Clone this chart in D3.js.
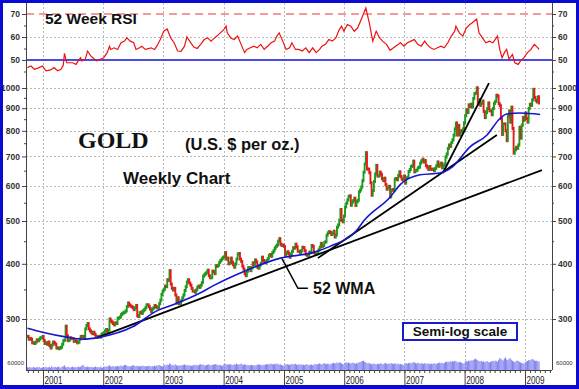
<!DOCTYPE html>
<html>
<head>
<meta charset="utf-8">
<script src="https://cdn.jsdelivr.net/npm/d3@7"></script>
<style>
body { margin: 0; background: #fff; }
svg { display: block; }
text { font-family: Arial, "Liberation Sans", sans-serif; }
</style>
</head>
<body>
<div id="chart"></div>
<script>
var W = 579, H = 389;

// axis labels
var years = [2001, 2002, 2003, 2004, 2005, 2006, 2007, 2008, 2009];
var priceTicks = [300, 400, 500, 600, 700, 800, 900, 1000];
var priceMinor = [350, 450, 550, 650, 750, 850, 950];
var rsiTicks = [50, 60, 70];
var rsiMinor = [45, 55, 65];

// weekly closes (US$/oz), first week ends 29 Sep 2000
var firstWeek = new Date(2000, 8, 29);
var gold2000 = [274,270,271,270,265,265,264,266,269,268,270,272,272,274];
var gold2001 = [268,264,265,263, 266,261,258,262, 266,265,263,258,258, 257,258,259,263,
  268,269,289,275, 268,269,272,271,271, 267,268,267,265, 266,270,274,273,274,
  272,285,290,293, 285,282,280,278, 280,277,274,273,274, 274,273,277,278];
var gold2002 = [279,282,284,281, 283,300,297,295, 293,291,294,293,301, 302,303,307,309,
  310,311,313,320,326, 323,321,320,318, 315,318,322,305, 304,310,311,309,313,
  315,318,323,323, 320,316,312,316, 318,322,320,318,318, 325,331,341,347];
var gold2003 = [350,356,355,368,367, 386,360,352,349, 352,340,326,335, 325,325,330,335,
  340,348,355,364,368, 362,358,352,347, 347,345,349,354, 356,354,358,363,375,
  378,380,383,387, 376,372,372,385,384, 380,396,395,397, 403,407,410,413];
var gold2004 = [415,424,410,412,400, 402,412,403,398, 393,400,410,421, 422,410,405,395,389,
  380,376,385,392, 392,386,392,402, 398,408,404,393,391, 397,401,414,407,
  404,402,407,411, 418,420,416,424,428, 434,438,441,450, 456,443,440,441,438];
var gold2005 = [419,423,426,422, 414,420,427,435, 434,443,437,427, 427,423,428,436,435,
  428,420,418,418, 425,424,440,438, 424,420,421,423,430, 436,445,438,440,
  447,449,464,470,473, 471,466,469,474, 460,465,484,490, 502,531,502,498,513];
var gold2006 = [538,549,558,568, 570,543,552,556, 563,542,553,557,582, 588,597,617,645,
  673,714,656,655, 643,610,572,586,614, 639,668,632,632, 645,638,623,617,
  625,604,590,595,599, 567,587,589,587, 622,624,620,634, 646,630,622,619,632];
var gold2007 = [609,626,628,647, 654,664,667,683, 646,650,652,660,662, 676,684,690,680,
  685,667,662,654, 664,655,654,655,650, 658,667,680,665, 670,676,660,668,673,
  698,709,730,743, 738,753,763,782, 808,833,783,823,783, 800,796,808,834];
var gold2008 = [866,892,880,916, 908,919,906,947,971, 974,1001,920,940, 914,925,934,885,
  857,880,898,925,888, 888,870,899,923, 933,963,959,922, 912,852,785,829,829,
  800,760,863,887, 837,905,810,712,724, 734,730,743,815, 770,824,858,846];
var gold2009 = [878,853,837,898,919, 913,940,993,952, 938,930,955,925];

// weekly volume, thousands
var vol2000 = [22,18,25,20,19,24,21,17,23,20,26,19,15,22];
var vol2001 = [24,20,27,19,22,25,18,30,23,21,26,20,24,28,19,22,25,31,38,24,20,26,22,19,23,27,
  21,25,20,24,28,22,26,35,40,29,25,22,27,24,21,26,23,20,25,28,22,24,19,26,21,18];
var vol2002 = [27,25,30,26,31,38,29,27,33,26,30,28,34,29,32,36,30,34,39,42,35,31,28,33,30,36,
  40,32,29,34,31,27,33,30,35,29,32,28,31,34,30,27,33,29,35,31,38,34,41,36,32,28];
var vol2003 = [38,42,35,44,40,52,46,38,41,36,45,39,34,37,33,40,36,42,45,39,37,41,35,38,33,36,
  39,42,37,40,35,44,47,41,43,38,36,40,42,46,39,37,44,41,45,48,43,40,38,42,36,33];
var vol2004 = [45,50,47,42,46,44,48,41,39,46,43,50,45,42,47,52,44,40,46,43,38,41,36,39,42,37,
  40,35,38,44,41,46,39,37,42,40,44,47,43,49,45,51,48,44,50,46,53,47,43,45,41,37,34];
var vol2005 = [46,42,48,44,40,45,49,43,47,50,44,41,45,42,46,39,43,40,44,47,41,38,45,42,39,43,
  46,48,44,50,53,47,45,51,55,49,46,52,48,44,50,54,58,52,56,60,55,62,57,53,48,45];
var vol2006 = [58,62,55,60,57,52,56,59,54,50,57,53,60,64,68,72,75,66,60,55,52,58,50,46,49,53,
  48,45,51,47,50,54,49,46,52,57,50,47,53,49,55,51,48,54,50,47,52,45,49,46,42,40];
var vol2007 = [52,56,50,55,58,53,57,60,64,55,52,58,54,50,56,52,49,55,51,48,53,50,46,52,48,55,
  51,47,53,56,60,54,58,52,57,64,68,62,66,70,65,72,68,74,70,65,60,66,62,58,55,50];
var vol2008 = [66,72,68,75,70,78,74,80,86,90,84,78,72,68,74,65,70,62,67,72,64,60,66,70,74,68,
  76,72,65,80,96,88,82,76,92,100,84,78,88,95,82,74,68,62,70,76,72,66,60,58,54,50];
var vol2009 = [62,68,72,80,76,82,88,84,78,72,75,70,66];

// 52 week RSI (week number, value)
var rsiWeek = [0,3,6,10,13,16,20,23,26,29,31,32,34,39,42,44,46,47,50,52,55,58,60,63,66,69,71,72,
  75,78,81,84,86,89,92,94,97,99,102,107,110,112,115,118,121,124,127,130,133,136,138,141,144,147,
  150,153,156,159,162,164,167,170,172,173,176,179,182,185,188,190,193,196,199,202,205,208,211,
  214,216,218,221,224,227,229,232,235,238,241,244,247,250,253,255,258,261,264,267,270,272,274,
  277,280,283,286,289,293,296,299,302,305,308,311,314,317,320,323,326,329,332,335,338,341,344,
  346,349,352,355,358,361,364,367,370,371,374,377,380,383,385,389,391,394,397,400,403,406,407,
  409,411,413,415,417,420,422,425,427,430,433,436,439,442,443];
var rsiValue = [46.7,47.4,46,46.7,47.4,45.3,45.7,46.7,45.3,46,47.7,52.9,48.8,48.8,48.1,49.6,51,
  49.6,50.3,53.9,51.7,50.3,49.6,50.3,51,53.2,56,54.6,55.3,54.6,57.5,58.2,59.6,58.2,57.5,54.6,55.3,
  56,54.6,55.3,54.6,56,58.9,62.5,63.5,59.6,57.5,53.9,53.8,56,60,57.8,55.6,55,56.8,58.9,59.6,58.2,
  59.6,60.4,61.8,63.2,64.7,61.8,59.6,58.9,60.4,56.8,53.2,54.6,55.3,56,55.3,56.8,54.6,56,57.5,58.2,
  60.4,61.8,58.2,54.6,55.3,57.5,54.6,54.6,53.9,55.3,53.2,55.3,53.2,54.6,56,56.8,58.9,58.2,59.6,
  63.2,64.7,62.5,65.4,64.7,62.5,64,67.6,72.6,66.1,58.2,62.5,59.6,58,56.8,54.2,55.3,56.4,57.5,56,
  57.5,58.2,58.9,56.8,56,58.2,56.8,55.3,54.6,55.3,56,55.3,57.5,60.4,62.5,64.7,61.8,60.4,63.9,65.4,
  66.1,67.8,61.8,59.6,57.5,58.2,57.5,59.6,60.4,54.6,51,53.2,54.6,50.3,52.4,48.8,48.1,49.6,51,53.2,
  54.6,56.8,55.3,54.6];

// 52 week weighted moving average (week number, value)
var wmaWeek = [0,13,34,48,63,91,112,126,149,161,190,219,247,262,285,292,314,323,340,357,368,383,398,409,415,427,444];
var wmaValue = [286,280,273,270,273,288,313,323,343,357,387,412,424,438,476,503,566,605,636,642,663,735,783,852,873,878,871];

// trend lines: [week, price] -> [week, price]
var trendStart = [[60, 272], [251.5, 412], [359.7, 642]];
var trendEnd = [[445.5, 652], [406.5, 783], [399.6, 1026]];

var plotLeft = 26, plotRight = 552, plotTop = 3, plotBottom = 370;

var svg = d3.select('#chart').append('svg')
  .attr('width', W)
  .attr('height', H);

svg.append('rect').attr('width', W).attr('height', H).attr('fill', '#fff');

var x = d3.scaleTime()
  .domain([new Date(2001, 0, 1), new Date(2009, 0, 1)])
  .range([43, 525]);
var yPrice = d3.scaleLog().domain([300, 1000]).range([319, 88]);
var yRsi = d3.scaleLinear().domain([50, 70]).range([60, 14]);
var yVol = d3.scaleLinear().domain([0, 60]).range([plotBottom, plotBottom - 7.5]);

function weekDate(w){
  return new Date(firstWeek.getTime() + w * 7 * 864e5);
}
function wx(w){ return x(weekDate(w)); }

svg.append('defs').append('clipPath').attr('id', 'plotclip')
  .append('rect')
  .attr('x', plotLeft).attr('y', plotTop)
  .attr('width', plotRight - plotLeft).attr('height', plotBottom - plotTop);

// grid
var grid = svg.append('g')
  .attr('stroke', '#b8b8b8')
  .attr('stroke-dasharray', '2,2')
  .attr('stroke-width', 1);
grid.selectAll('.vg').data(years).enter().append('line')
  .attr('x1', function(d){ return Math.round(x(new Date(d, 0, 1))) + 0.5; })
  .attr('x2', function(d){ return Math.round(x(new Date(d, 0, 1))) + 0.5; })
  .attr('y1', plotTop).attr('y2', plotBottom);
grid.selectAll('.hg').data(priceTicks).enter().append('line')
  .attr('x1', plotLeft).attr('x2', plotRight)
  .attr('y1', function(d){ return Math.round(yPrice(d)) + 0.5; })
  .attr('y2', function(d){ return Math.round(yPrice(d)) + 0.5; });
grid.append('line')
  .attr('x1', plotLeft).attr('x2', plotRight)
  .attr('y1', Math.round(yRsi(60)) + 0.5).attr('y2', Math.round(yRsi(60)) + 0.5);

var plot = svg.append('g').attr('clip-path', 'url(#plotclip)');

// volume
var volume = [].concat(vol2000, vol2001, vol2002, vol2003, vol2004, vol2005, vol2006, vol2007, vol2008, vol2009);
plot.selectAll('.vol').data(volume).enter().append('line')
  .attr('x1', function(d, i){ return wx(i); })
  .attr('x2', function(d, i){ return wx(i); })
  .attr('y1', plotBottom)
  .attr('y2', function(d){ return yVol(d); })
  .attr('stroke', '#7272ec')
  .attr('stroke-width', 0.9);

// RSI reference lines
plot.append('line')
  .attr('x1', plotLeft).attr('x2', plotRight)
  .attr('y1', yRsi(70)).attr('y2', yRsi(70))
  .attr('stroke', '#e83838').attr('stroke-dasharray', '8,5');
plot.append('line')
  .attr('x1', plotLeft).attr('x2', plotRight)
  .attr('y1', yRsi(50)).attr('y2', yRsi(50))
  .attr('stroke', '#1010d8').attr('stroke-width', 1.6);

var rsiLine = d3.line()
  .x(function(d){ return wx(d[0]); })
  .y(function(d){ return yRsi(d[1]); });
plot.append('path')
  .datum(d3.zip(rsiWeek, rsiValue))
  .attr('d', rsiLine)
  .attr('fill', 'none')
  .attr('stroke', '#ee1111')
  .attr('stroke-width', 1.2);

// candles
var closes = [].concat(gold2000, gold2001, gold2002, gold2003, gold2004, gold2005, gold2006, gold2007, gold2008, gold2009);
var candles = closes.map(function(c, i){
  return {w: i, open: i ? closes[i - 1] : c, close: c};
});
plot.selectAll('.candle').data(candles).enter().append('line')
  .attr('x1', function(d){ return wx(d.w); })
  .attr('x2', function(d){ return wx(d.w); })
  .attr('y1', function(d){ return yPrice(d.open) + (d.close >= d.open ? 1.5 : -1.5); })
  .attr('y2', function(d){ return yPrice(d.close) + (d.close >= d.open ? -1.5 : 1.5); })
  .attr('stroke', function(d){ return d.close >= d.open ? '#1d9a1d' : '#e51a1a'; })
  .attr('stroke-width', 1.9);

// trend lines
plot.selectAll('.trend').data(d3.zip(trendStart, trendEnd)).enter().append('line')
  .attr('x1', function(d){ return wx(d[0][0]); })
  .attr('y1', function(d){ return yPrice(d[0][1]); })
  .attr('x2', function(d){ return wx(d[1][0]); })
  .attr('y2', function(d){ return yPrice(d[1][1]); })
  .attr('stroke', '#000')
  .attr('stroke-width', 1.8);

// WMA
var wmaLine = d3.line()
  .curve(d3.curveMonotoneX)
  .x(function(d){ return wx(d[0]); })
  .y(function(d){ return yPrice(d[1]); });
plot.append('path')
  .datum(d3.zip(wmaWeek, wmaValue))
  .attr('d', wmaLine)
  .attr('fill', 'none')
  .attr('stroke', '#1515d0')
  .attr('stroke-width', 1.6);

// axes
function styleAxis(g, size, bold){
  g.select('.domain').remove();
  g.selectAll('line').attr('stroke', '#444');
  g.selectAll('text')
    .attr('font-size', size)
    .attr('font-weight', bold ? 'bold' : 'normal')
    .attr('fill', '#333');
}
var axes = svg.append('g');
function sideAxis(axisFn, xPos, scale, major, minor){
  axes.append('g').attr('transform', 'translate(' + xPos + ',0)')
    .call(axisFn(scale).tickValues(major).tickFormat(d3.format('d')).tickSize(4).tickPadding(2))
    .call(styleAxis, 8.5, true);
  axes.append('g').attr('transform', 'translate(' + xPos + ',0)')
    .call(axisFn(scale).tickValues(minor).tickFormat('').tickSize(2))
    .call(styleAxis, 8.5, true);
}
sideAxis(d3.axisLeft, plotLeft, yPrice, priceTicks, priceMinor);
sideAxis(d3.axisLeft, plotLeft, yRsi, rsiTicks, rsiMinor);
sideAxis(d3.axisRight, plotRight, yPrice, priceTicks, priceMinor);
sideAxis(d3.axisRight, plotRight, yRsi, rsiTicks, rsiMinor);

axes.append('g').attr('transform', 'translate(0,' + plotBottom + ')')
  .call(d3.axisBottom(x).tickValues(d3.timeMonths(x.invert(plotLeft), x.invert(plotRight))).tickFormat('').tickSize(3))
  .call(styleAxis, 8, false);
axes.append('g').attr('transform', 'translate(0,' + plotBottom + ')')
  .call(d3.axisBottom(x).tickValues(years.map(function(y){ return new Date(y, 0, 1); })).tickFormat('').tickSize(16))
  .call(styleAxis, 8, false);

axes.selectAll('.year').data(years).enter().append('text')
  .attr('x', function(d){ return x(new Date(d, 0, 1)) + 1.5; })
  .attr('y', 384)
  .attr('font-size', 11)
  .attr('fill', '#222')
  .attr('textLength', 18)
  .attr('lengthAdjust', 'spacingAndGlyphs')
  .text(function(d){ return d; });

// volume scale marks
axes.append('text').attr('x', 24).attr('y', yVol(60) + 2).attr('text-anchor', 'end')
  .attr('font-size', 6).attr('fill', '#333').text('60000');
axes.append('text').attr('x', plotRight + 4).attr('y', yVol(60) + 2)
  .attr('font-size', 6).attr('fill', '#333').text('60000');

axes.append('line').attr('x1', plotLeft + 0.5).attr('x2', plotLeft + 0.5).attr('y1', plotTop).attr('y2', plotBottom)
  .attr('stroke', '#444');
axes.append('line').attr('x1', plotRight + 0.5).attr('x2', plotRight + 0.5).attr('y1', plotTop).attr('y2', plotBottom)
  .attr('stroke', '#444');
axes.append('line').attr('x1', plotLeft).attr('x2', plotRight).attr('y1', plotBottom + 0.5).attr('y2', plotBottom + 0.5)
  .attr('stroke', '#444');

// pointer to the WMA
var pointer = [[220.4, 411], [234.2, 352], [242.8, 352]];
svg.append('path')
  .datum(pointer)
  .attr('d', d3.line().x(function(d){ return wx(d[0]); }).y(function(d){ return yPrice(d[1]); }))
  .attr('fill', 'none')
  .attr('stroke', '#000')
  .attr('stroke-width', 1.5);

svg.append('rect').attr('x', 403).attr('y', 323).attr('width', 114).attr('height', 17)
  .attr('fill', '#fff').attr('stroke', '#1a1ad0').attr('stroke-width', 2);

// labels
var labels = svg.append('g').attr('fill', '#111').attr('font-weight', 'bold');
labels.append('text').attr('x', 45).attr('y', 24).attr('font-size', 15.5).text('52 Week RSI');
labels.append('text').attr('x', 78).attr('y', 148).attr('font-size', 24)
  .style('font-family', '"Liberation Serif", "Times New Roman", serif').text('GOLD');
labels.append('text').attr('x', 185).attr('y', 150).attr('font-size', 16.5).text('(U.S. $ per oz.)');
labels.append('text').attr('x', 123).attr('y', 184).attr('font-size', 17).text('Weekly Chart');
labels.append('text').attr('x', 313).attr('y', 294).attr('font-size', 16).text('52 WMA');
labels.append('text').attr('x', 460).attr('y', 336).attr('text-anchor', 'middle')
  .attr('font-size', 13.5).text('Semi-log scale');

// frame
svg.append('rect').attr('x', 1.5).attr('y', 1.5).attr('width', W - 3).attr('height', H - 3)
  .attr('fill', 'none').attr('stroke', '#0a0ad2').attr('stroke-width', 3);
svg.append('rect').attr('x', 0).attr('y', H - 4).attr('width', W).attr('height', 4)
  .attr('fill', '#0a0ad2');
</script>
</body>
</html>
